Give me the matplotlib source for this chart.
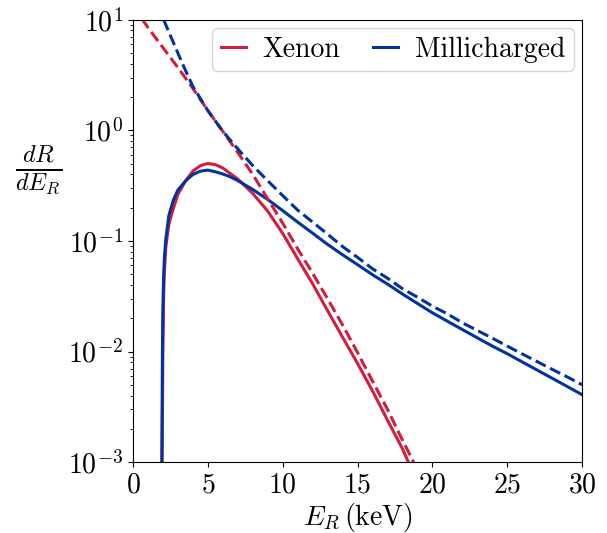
import matplotlib
matplotlib.use("Agg")
import matplotlib.pyplot as plt

plt.rcParams['font.family'] = 'serif'
plt.rcParams['font.serif'] = ['cmr10', 'DejaVu Serif']
plt.rcParams['mathtext.fontset'] = 'cm'
plt.rcParams['axes.formatter.use_mathtext'] = True

# Xenon recoil spectrum, with threshold (solid) and without (dashed)
xe_x = [1.95, 2.0, 2.05, 2.1, 2.2, 2.4, 2.6, 3.0, 3.5, 4.0, 4.5, 5.0, 5.5, 6.0,
        6.5, 7.0, 8.0, 9.0, 10, 11, 12, 13, 14, 15, 16, 17, 18, 18.4]
xe_thr = [0.001, 0.010, 0.032, 0.052, 0.089, 0.141, 0.178, 0.263, 0.347, 0.427,
          0.479, 0.501, 0.490, 0.457, 0.407, 0.363, 0.269, 0.186, 0.117, 0.069,
          0.041, 0.0234, 0.0135, 0.0078, 0.0044, 0.0024, 0.00132, 0.0010]
xe_full_x = [0.6, 1, 2, 3, 4, 5, 6, 7, 8, 9, 10, 11, 12, 13, 14, 15, 16, 17, 18, 18.75]
xe_full = [10.2, 8.5, 5.6, 3.7, 2.4, 1.51, 0.98, 0.63, 0.40, 0.24, 0.145, 0.085,
           0.051, 0.030, 0.0174, 0.0098, 0.0054, 0.0030, 0.00158, 0.0010]

# Millicharged spectrum
mc_x = [1.93, 1.97, 2.0, 2.05, 2.1, 2.2, 2.4, 2.7, 3.0, 3.5, 4.0, 4.5, 5.0, 5.5,
        6.0, 6.5, 7.0, 8.0, 9.0, 10, 11, 12, 13, 14, 15, 16, 17, 18, 19, 20,
        21, 22, 23, 24, 25, 26, 27, 28, 29, 30]
mc_thr = [0.001, 0.010, 0.025, 0.048, 0.071, 0.105, 0.170, 0.234, 0.288, 0.347,
          0.398, 0.427, 0.437, 0.422, 0.403, 0.380, 0.351, 0.292, 0.237, 0.188,
          0.148, 0.1175, 0.093, 0.075, 0.061, 0.0495, 0.0407, 0.0331, 0.0272,
          0.0224, 0.0188, 0.0158, 0.0133, 0.0112, 0.00955, 0.00805, 0.00679,
          0.00573, 0.00483, 0.00407]
mc_full_x = [2.05, 2.5, 3, 3.5, 4, 5, 6, 7, 8, 9, 10, 11, 12, 13, 14, 15, 16, 17,
             18, 19, 20, 21, 22, 23, 24, 25, 26, 27, 28, 29, 30]
mc_full = [10.0, 7.2, 5.0, 3.5, 2.5, 1.51, 0.98, 0.68, 0.48, 0.35, 0.257, 0.19,
           0.148, 0.115, 0.089, 0.071, 0.056, 0.046, 0.037, 0.031, 0.0257,
           0.0219, 0.0182, 0.0155, 0.0132, 0.0112, 0.0095, 0.0081, 0.0069,
           0.0059, 0.0050]

x_ticks = [0, 5, 10, 15, 20, 25, 30]

red = '#d01f3c'
blue = '#0033a0'

fig = plt.figure(figsize=(6.07, 5.33), dpi=100)
ax = fig.add_axes([0.219, 0.133, 0.740, 0.830])

ax.plot(xe_x, xe_thr, color=red, lw=2.2, label='Xenon')
ax.plot(mc_x, mc_thr, color=blue, lw=2.2, label='Millicharged')
ax.plot(xe_full_x, xe_full, color=red, lw=2.2, ls='--')
ax.plot(mc_full_x, mc_full, color=blue, lw=2.2, ls='--')

ax.set_yscale('log')
ax.set_xlim(0, 30)
ax.set_ylim(1e-3, 1e1)
ax.set_xticks(x_ticks)
ax.tick_params(labelsize=20)
ax.set_xlabel(r'$E_R\,(\mathrm{keV})$', fontsize=20, labelpad=2)
ax.set_ylabel(r'$\frac{dR}{dE_R}$', fontsize=25, rotation=0)
ax.yaxis.set_label_coords(-0.21, 0.6)

ax.legend(loc='upper right', ncol=2, fontsize=20, handlelength=0.9,
          columnspacing=1.2, handletextpad=0.6, borderpad=0.3,
          borderaxespad=0.3)

fig.savefig('out.png', dpi=100)
